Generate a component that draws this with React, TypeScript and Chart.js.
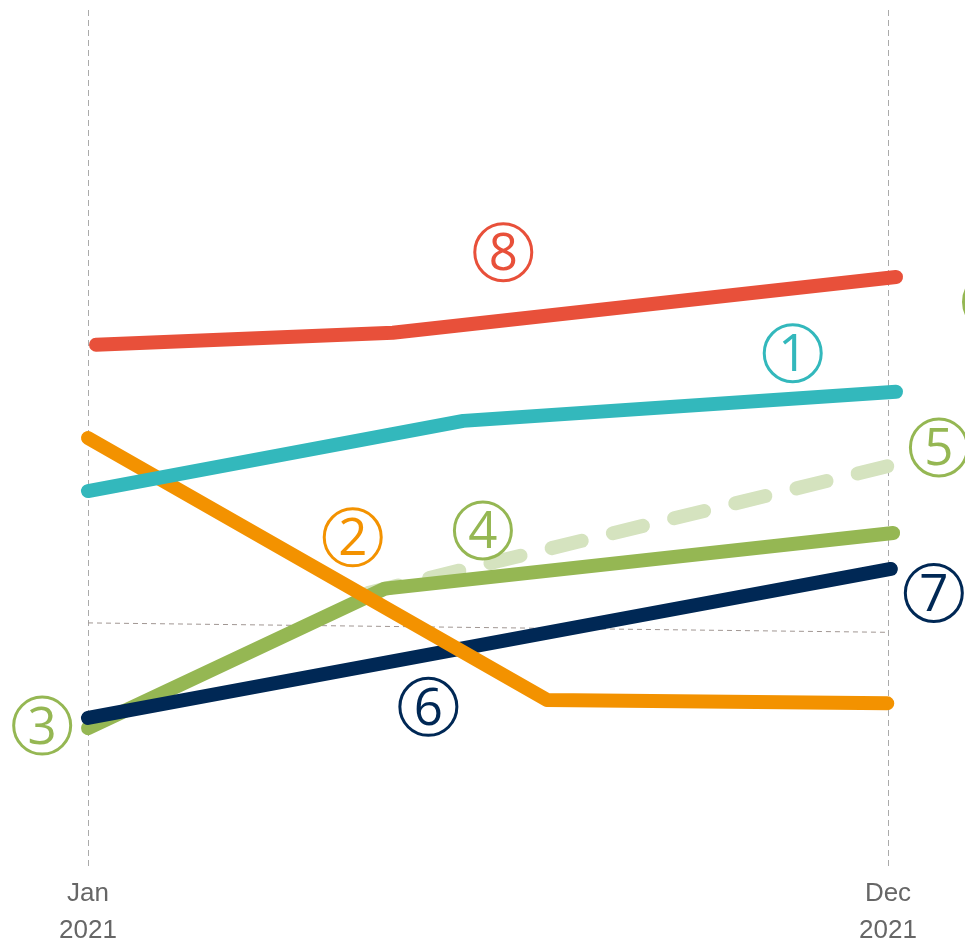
import { useEffect, useRef } from 'react';
import { Chart, registerables } from 'chart.js';

Chart.register(...registerables);

// x = months since Jan 2021 (0 = Jan, 11 = Dec); y = index value (0..100)
const tickMonths = [0, 11];
const tickLabels = [['Jan', '2021'], ['Dec', '2021']];

const seriesTeal = [[0, 43.8], [5.16, 52.0], [11.11, 55.4]];
const seriesOrange = [[0, 50.0], [6.31, 19.4], [10.99, 19.0]];
const seriesNavy = [[0, 17.3], [11.04, 34.7]];
const seriesGreen = [[0, 16.1], [4.08, 32.4], [11.07, 38.9]];
const seriesLightGreen = [[3.85, 31.9], [10.99, 46.7]];
const seriesRed = [[0.11, 60.9], [4.19, 62.3], [11.11, 68.8]];
const seriesRef = [[0, 28.4], [11, 27.3]];

const labelTexts = ['8', '1', '5', '4', '4', '2', '6', '7', '3'];
const labelX = [5.71, 9.69, 11.70, 12.43, 5.43, 3.64, 4.68, 11.63, -0.63];
const labelY = [71.7, 59.9, 48.9, 65.9, 39.2, 38.4, 18.6, 31.9, 16.4];
const labelColors = ['#e8503a', '#33b8bc', '#95b753', '#95b753', '#95b753', '#f39200', '#002855', '#002855', '#95b753'];

const toPts = (arr: number[][]) => arr.map(([x, y]) => ({ x, y }));

const labelPlugin = {
  id: 'circledLabels',
  afterDatasetsDraw(chart: any) {
    const { ctx, scales } = chart;
    const xs = scales.x;
    const ys = scales.y;
    ctx.save();
    ctx.textAlign = 'center';
    ctx.textBaseline = 'alphabetic';
    ctx.font = '400 51px "Open Sans", "Noto Sans", sans-serif';
    labelTexts.forEach((t, i) => {
      const cx = xs.getPixelForValue(labelX[i]);
      const cy = ys.getPixelForValue(labelY[i]);
      ctx.strokeStyle = labelColors[i];
      ctx.fillStyle = labelColors[i];
      ctx.lineWidth = 3;
      ctx.beginPath();
      ctx.arc(cx, cy, 28.5, 0, Math.PI * 2);
      ctx.stroke();
      ctx.fillText(t, cx, cy + 18);
    });
    ctx.restore();
  },
};

const lineDs = (data: number[][], color: string, extra: any = {}) => ({
  data: toPts(data),
  borderColor: color,
  backgroundColor: color,
  borderWidth: 14,
  borderCapStyle: 'round',
  borderJoinStyle: 'round',
  pointRadius: 0,
  tension: 0,
  clip: false,
  ...extra,
});

export default function App() {
  const ref = useRef<HTMLCanvasElement | null>(null);
  useEffect(() => {
    if (!ref.current) return;
    const chart = new Chart(ref.current, {
      type: 'line',
      data: {
        datasets: [
          lineDs(seriesTeal, '#33b8bc'),
          lineDs(seriesOrange, '#f39200'),
          lineDs(seriesNavy, '#002855'),
          lineDs(seriesGreen, '#95b753'),
          lineDs(seriesLightGreen, '#d5e3bf', { borderDash: [31, 32] }),
          lineDs(seriesRed, '#e8503a'),
          lineDs(seriesRef, '#a09692', { borderWidth: 1, borderDash: [5, 4], borderCapStyle: 'butt' }),
        ] as any,
      },
      options: {
        animation: false,
        responsive: false,
        layout: { padding: { left: 88, right: 77, top: 10, bottom: 0 } },
        plugins: { legend: { display: false }, tooltip: { enabled: false } },
        scales: {
          x: {
            type: 'linear',
            min: 0,
            max: 11,
            afterBuildTicks: (scale: any) => {
              scale.ticks = tickMonths.map((v) => ({ value: v }));
            },
            ticks: {
              autoSkip: false,
              maxRotation: 0,
              padding: 9,
              color: '#666666',
              font: { family: '"Liberation Sans", Arial, sans-serif', size: 26, lineHeight: 1.423 },
              callback: (v: any) => {
                const i = tickMonths.indexOf(Number(v));
                return i >= 0 ? tickLabels[i] : '';
              },
            },
            grid: { color: '#aaaaaa', lineWidth: 1, drawTicks: false },
            border: { display: false, dash: [6, 4] },
          },
          y: { type: 'linear', min: 0, max: 100, display: false },
        },
      },
      plugins: [labelPlugin],
    });
    return () => chart.destroy();
  }, []);
  return (
    <div style={{ position: 'fixed', left: 0, top: 0, width: 965, height: 943, overflow: 'hidden', background: '#fff' }}>
      <canvas ref={ref} width={965} height={958} style={{ display: 'block' }} />
    </div>
  );
}
